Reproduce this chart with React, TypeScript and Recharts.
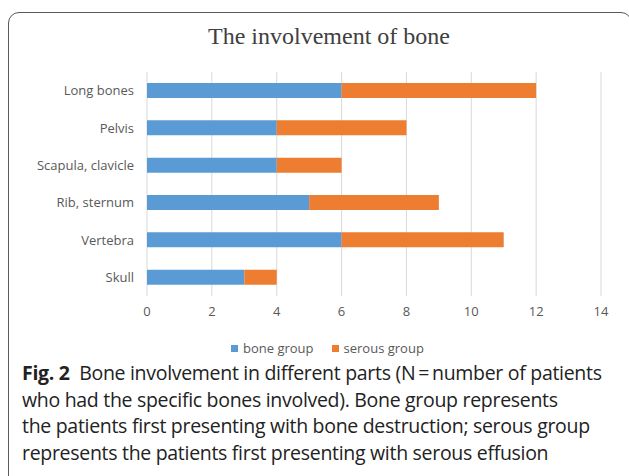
import { BarChart, Bar, XAxis, YAxis, CartesianGrid } from "recharts";

const CATEGORIES = ["Long bones", "Pelvis", "Scapula, clavicle", "Rib, sternum", "Vertebra", "Skull"];
const BONE_GROUP = [6, 4, 4, 5, 6, 3];
const SEROUS_GROUP = [6, 4, 2, 4, 5, 1];
const X_TICKS = [0, 2, 4, 6, 8, 10, 12, 14];

const BLUE = "#5b9bd5";
const ORANGE = "#ed7d31";
const TEXT = "#595959";
const SANS = "'Open Sans', 'Noto Sans', sans-serif";

const data = CATEGORIES.map((name, i) => ({
  name,
  bone: BONE_GROUP[i],
  serous: SEROUS_GROUP[i],
}));

function LegendItem({ color, label }: { color: string; label: string }) {
  return (
    <span style={{ display: "inline-flex", alignItems: "center", marginRight: 18 }}>
      <span style={{ width: 7, height: 7, background: color, marginRight: 5 }} />
      {label}
    </span>
  );
}

export default function App() {
  return (
    <div
      style={{
        position: "absolute",
        left: 0,
        top: 0,
        width: 629,
        height: 476,
        overflow: "hidden",
        background: "#fff",
      }}
    >
      {/* figure frame, cut off on right and bottom */}
      <div
        style={{
          position: "absolute",
          left: 8,
          top: 12,
          width: 622,
          height: 520,
          border: "1.5px solid #5a5a5a",
          borderRadius: 11,
        }}
      />
      <div
        style={{
          position: "absolute",
          left: 0,
          top: 23,
          width: 658,
          textAlign: "center",
          fontFamily: "'Liberation Serif', serif",
          fontSize: 24,
          color: "#404040",
        }}
      >
        The involvement of bone
      </div>
      <div style={{ position: "absolute", left: 0, top: 0 }}>
        <BarChart
          width={629}
          height={340}
          data={data}
          layout="vertical"
          margin={{ top: 72, right: 28, left: 0, bottom: 14 }}
        >
          <CartesianGrid horizontal={false} stroke="#d9d9d9" />
          <XAxis
            type="number"
            domain={[0, 14]}
            ticks={X_TICKS}
            axisLine={false}
            tickLine={false}
            tickMargin={5}
            height={30}
            tick={{ fill: TEXT, fontSize: 13, fontFamily: SANS }}
          />
          <YAxis
            type="category"
            dataKey="name"
            width={147}
            axisLine={false}
            tickLine={false}
            tickMargin={7}
            tick={{ fill: TEXT, fontSize: 13, fontFamily: SANS }}
          />
          <Bar dataKey="bone" stackId="a" fill={BLUE} barSize={15} isAnimationActive={false} />
          <Bar dataKey="serous" stackId="a" fill={ORANGE} barSize={15} isAnimationActive={false} />
        </BarChart>
      </div>
      <div
        style={{
          position: "absolute",
          left: 231,
          top: 339,
          fontFamily: SANS,
          fontSize: 13,
          lineHeight: "17px",
          color: TEXT,
          whiteSpace: "nowrap",
        }}
      >
        <LegendItem color={BLUE} label="bone group" />
        <LegendItem color={ORANGE} label="serous group" />
      </div>
      <div
        style={{
          position: "absolute",
          left: 22,
          top: 360,
          fontFamily: SANS,
          fontSize: 19.5,
          lineHeight: "26.7px",
          color: "#222",
          whiteSpace: "nowrap",
          letterSpacing: -0.3,
        }}
      >
        <b>Fig. 2</b>&nbsp; Bone involvement in different parts (N{"\u2009=\u2009"}number of patients
        <br />
        who had the specific bones involved). Bone group represents
        <br />
        the patients first presenting with bone destruction; serous group
        <br />
        represents the patients first presenting with serous effusion
      </div>
    </div>
  );
}
